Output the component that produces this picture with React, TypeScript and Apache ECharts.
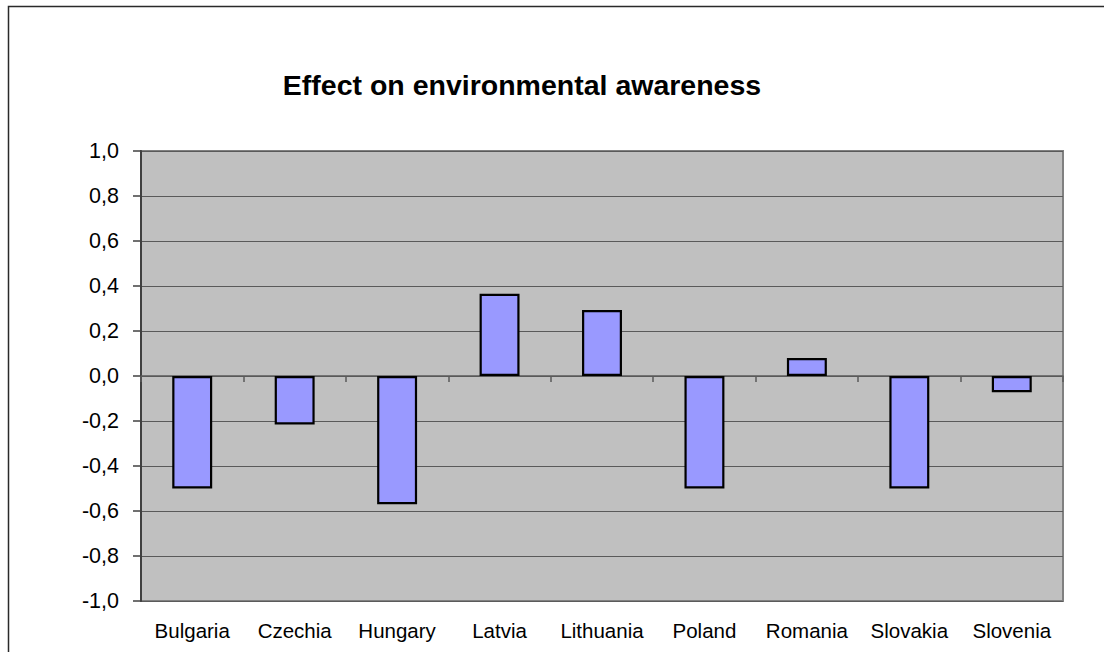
import React, { useEffect, useRef } from "react";
import * as echarts from "echarts";

const categories = ["Bulgaria", "Czechia", "Hungary", "Latvia", "Lithuania", "Poland", "Romania", "Slovakia", "Slovenia"];
const values = [-0.5, -0.215, -0.57, 0.365, 0.293, -0.5, 0.08, -0.5, -0.072];
const titleText = "Effect on environmental awareness";
const yMin = -1;
const yMax = 1;
const yStep = 0.2;

export default function App() {
  const ref = useRef<HTMLDivElement>(null);
  useEffect(() => {
    document.body.style.margin = "0";
    const chart = echarts.init(ref.current!, null, { renderer: "svg" });
    const font = "'Liberation Sans', Arial, sans-serif";
    chart.setOption({
      animation: false,
      backgroundColor: "#ffffff",
      graphic: [
        {
          type: "rect",
          shape: { x: 8.5, y: 6.5, width: 1200, height: 800 },
          style: { fill: "none", stroke: "#2a2a2a", lineWidth: 1.5 },
          silent: true,
        },
        {
          type: "text",
          x: 522,
          y: 85,
          style: {
            text: titleText,
            font: `bold 28.5px ${font}`,
            fill: "#000",
            textAlign: "center",
            textVerticalAlign: "middle",
          },
        },
      ],
      grid: {
        left: 141,
        top: 151,
        right: 41,
        bottom: 51,
        show: true,
        backgroundColor: "#c0c0c0",
        borderColor: "#808080",
        borderWidth: 2,
      },
      xAxis: [
        {
          type: "category",
          data: categories,
          position: "bottom",
          axisLine: { onZero: false, show: false },
          axisTick: { show: false },
          axisLabel: { interval: 0, fontFamily: font, fontSize: 20.5, color: "#000", margin: 19 },
        },
        {
          type: "category",
          data: categories,
          position: "bottom",
          axisLine: { onZero: true, show: true, lineStyle: { color: "#5a5a5a", width: 1.5 } },
          axisTick: { show: true, interval: 0, length: 6, alignWithLabel: false, lineStyle: { color: "#5a5a5a", width: 1.5 } },
          axisLabel: { show: false },
        },
      ],
      yAxis: {
        type: "value",
        min: yMin,
        max: yMax,
        interval: yStep,
        axisLine: { show: true, lineStyle: { color: "#404040", width: 2 } },
        axisTick: { show: true, length: 8, lineStyle: { color: "#404040", width: 1.5 } },
        splitLine: { show: true, lineStyle: { color: "#5a5a5a", width: 1.2 } },
        axisLabel: {
          fontFamily: font,
          fontSize: 21.5,
          color: "#000",
          margin: 22,
          formatter: (v: number) => v.toFixed(1).replace(".", ","),
        },
      },
      series: [
        {
          type: "bar",
          xAxisIndex: 0,
          data: values,
          barWidth: "39%",
          itemStyle: { color: "#9999ff", borderColor: "#000", borderWidth: 2.2 },
        },
      ],
    });
    return () => chart.dispose();
  }, []);
  return <div ref={ref} style={{ width: 1104, height: 652 }} />;
}
